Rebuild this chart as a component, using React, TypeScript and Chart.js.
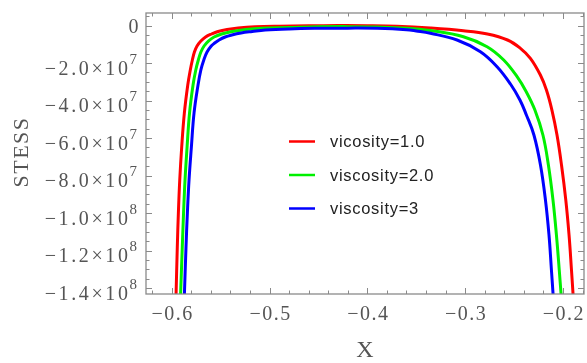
import { useEffect, useRef } from "react";
import { Chart, registerables } from "chart.js";

Chart.register(...registerables);

// Stress profiles across the channel for three viscosities
const redX = [-0.5956, -0.5943, -0.5932, -0.5918, -0.5898, -0.5871, -0.5836, -0.581, -0.5789, -0.5768, -0.5741, -0.5702, -0.5654, -0.5593, -0.5526, -0.5434, -0.5321, -0.5147, -0.49, -0.46, -0.43, -0.4, -0.37, -0.3356, -0.3018, -0.2772, -0.2567, -0.2435, -0.2333, -0.2231, -0.2169, -0.2113, -0.2061, -0.2015, -0.1971, -0.1938, -0.1913, -0.1893];
const redY = [-1.443e8, -1.181e8, -1.0e8, -8.24e7, -6.48e7, -4.67e7, -3.17e7, -2.37e7, -1.84e7, -1.413e7, -1.093e7, -8.27e6, -6.13e6, -4.53e6, -3.2e6, -2.13e6, -1.33e6, -6.9e5, -3.5e5, -1.5e5, -5e4, -1e5, -4e5, -1.33e6, -2.77e6, -4.53e6, -7.73e6, -1.216e7, -1.749e7, -2.64e7, -3.44e7, -4.51e7, -5.84e7, -7.44e7, -9.31e7, -1.117e8, -1.304e8, -1.464e8];

const greenX = [-0.591, -0.5892, -0.5879, -0.5864, -0.5843, -0.5818, -0.5782, -0.5754, -0.5728, -0.5702, -0.5669, -0.5625, -0.5567, -0.549, -0.5383, -0.524, -0.5079, -0.48, -0.45, -0.42, -0.39, -0.36, -0.3356, -0.3018, -0.2776, -0.2606, -0.2469, -0.2374, -0.2287, -0.2205, -0.2149, -0.2102, -0.2067, -0.2038, -0.2015];
const greenY = [-1.443e8, -1.181e8, -1.0e8, -8.24e7, -6.48e7, -4.67e7, -3.17e7, -2.37e7, -1.84e7, -1.413e7, -1.093e7, -8.27e6, -6.13e6, -4.53e6, -3.2e6, -2.13e6, -1.49e6, -1.1e6, -7e5, -6e5, -8e5, -1.4e6, -2.67e6, -5.97e6, -1.131e7, -1.84e7, -2.73e7, -3.55e7, -4.51e7, -5.84e7, -7.44e7, -9.31e7, -1.117e8, -1.304e8, -1.464e8];

const blueX = [-0.5871, -0.5854, -0.584, -0.5823, -0.5799, -0.5772, -0.5731, -0.5702, -0.5672, -0.5639, -0.5596, -0.5564, -0.5516, -0.5454, -0.5386, -0.5291, -0.5178, -0.5045, -0.48, -0.45, -0.42, -0.39, -0.36, -0.35, -0.3356, -0.3083, -0.2844, -0.2674, -0.2537, -0.244, -0.2374, -0.2297, -0.223, -0.2179, -0.2143, -0.2118, -0.2097];
const blueY = [-1.443e8, -1.181e8, -1.0e8, -8.24e7, -6.48e7, -4.67e7, -3.17e7, -2.37e7, -1.84e7, -1.413e7, -1.093e7, -9.49e6, -7.73e6, -6.13e6, -5.07e6, -4.0e6, -3.2e6, -2.4e6, -1.8e6, -1.5e6, -1.4e6, -1.5e6, -2.2e6, -2.9e6, -4.16e6, -7.73e6, -1.397e7, -2.197e7, -3.12e7, -3.97e7, -4.77e7, -5.84e7, -7.44e7, -9.31e7, -1.117e8, -1.304e8, -1.464e8];

const seriesLabels = ["vicosity=1.0", "viscosity=2.0", "viscosity=3"];
const seriesColors = ["#ff0000", "#00f000", "#0000ff"];

const xTickValues = [-0.6, -0.5, -0.4, -0.3, -0.2];
const xTickLabels = ["\u22120.6", "\u22120.5", "\u22120.4", "\u22120.3", "\u22120.2"];
const xMinorStep = 0.02;

const yTickValues = [0, -2e7, -4e7, -6e7, -8e7, -1e8, -1.2e8, -1.4e8];
const yTickMantissas = ["0", "\u22122.0\u00d710", "\u22124.0\u00d710", "\u22126.0\u00d710", "\u22128.0\u00d710", "\u22121.0\u00d710", "\u22121.2\u00d710", "\u22121.4\u00d710"];
const yTickExponents = ["", "7", "7", "7", "7", "8", "8", "8"];
const yMinorStep = 5e6;

const xTitle = "X";
const yTitle = "STESS";

const X_MIN = -0.6263;
const X_MAX = -0.1785;
const Y_MIN = -1.432e8;
const Y_MAX = 6.67e6;

const FRAME = "#8a8a8a";
const LABEL = "#555555";

const toPoints = (xs: number[], ys: number[]) => xs.map((x, i) => ({ x, y: ys[i] }));

const frameTicks = {
  id: "frameTicks",
  afterDatasetsDraw(chart: any) {
    const { ctx, chartArea: a, scales } = chart;
    const xs = scales.x;
    const ys = scales.y;
    ctx.save();
    ctx.strokeStyle = FRAME;
    ctx.lineWidth = 1.3;
    ctx.strokeRect(a.left, a.top, a.right - a.left, a.bottom - a.top);
    ctx.lineWidth = 1;
    const seg = (x1: number, y1: number, x2: number, y2: number) => {
      ctx.beginPath();
      ctx.moveTo(x1, y1);
      ctx.lineTo(x2, y2);
      ctx.stroke();
    };
    const xStart = Math.ceil(X_MIN / xMinorStep);
    const xEnd = Math.floor(X_MAX / xMinorStep);
    for (let i = xStart; i <= xEnd; i++) {
      const v = i * xMinorStep;
      const px = Math.round(xs.getPixelForValue(v)) + 0.5;
      const major = Math.abs(i) % 5 === 0;
      const len = major ? 6 : 3.5;
      seg(px, a.bottom, px, a.bottom - len);
      seg(px, a.top, px, a.top + len);
    }
    const yStart = Math.ceil(Y_MIN / yMinorStep);
    const yEnd = Math.floor(Y_MAX / yMinorStep);
    for (let i = yStart; i <= yEnd; i++) {
      const v = i * yMinorStep;
      const py = Math.round(ys.getPixelForValue(v)) + 0.5;
      const major = Math.abs(i) % 4 === 0;
      const len = major ? 6 : 3.5;
      seg(a.left, py, a.left + len, py);
      seg(a.right, py, a.right - len, py);
    }
    ctx.restore();
  },
  afterDraw(chart: any) {
    const { ctx, scales } = chart;
    const xs = scales.x;
    const ys = scales.y;
    ctx.save();
    ctx.fillStyle = LABEL;

    // bottom tick labels
    (ctx as any).letterSpacing = "1.5px";
    ctx.font = "20px 'Liberation Serif'";
    ctx.textAlign = "center";
    ctx.textBaseline = "alphabetic";
    xTickValues.forEach((v, i) => {
      ctx.fillText(xTickLabels[i], xs.getPixelForValue(v) + 1, 320);
    });

    // left tick labels with powers of ten
    yTickValues.forEach((v, i) => {
      const py = ys.getPixelForValue(v);
      ctx.textAlign = "right";
      ctx.font = "20px 'Liberation Serif'";
      if (!yTickExponents[i]) {
        (ctx as any).letterSpacing = "0px";
        ctx.fillText(yTickMantissas[i], 138.5, py + 7);
        return;
      }
      (ctx as any).letterSpacing = "2.6px";
      ctx.fillText(yTickMantissas[i], 130.5, py + 11.5);
      (ctx as any).letterSpacing = "0px";
      ctx.textAlign = "left";
      ctx.font = "15px 'Liberation Serif'";
      ctx.fillText(yTickExponents[i], 129.5, py + 0.5);
    });

    // axis titles
    (ctx as any).letterSpacing = "0px";
    ctx.font = "24px 'Liberation Serif'";
    ctx.textAlign = "center";
    ctx.fillText(xTitle, 365, 357);
    ctx.save();
    ctx.translate(28, 152);
    ctx.rotate(-Math.PI / 2);
    (ctx as any).letterSpacing = "1.5px";
    ctx.font = "22px 'Liberation Serif'";
    ctx.fillText(yTitle, 0, 0);
    ctx.restore();

    // legend
    const legendY = [141.5, 175, 208.5];
    (ctx as any).letterSpacing = "0.7px";
    ctx.font = "16.5px 'Liberation Sans'";
    ctx.textAlign = "left";
    seriesLabels.forEach((label, i) => {
      ctx.strokeStyle = seriesColors[i];
      ctx.lineWidth = 2.5;
      ctx.beginPath();
      ctx.moveTo(289, legendY[i]);
      ctx.lineTo(315, legendY[i]);
      ctx.stroke();
      ctx.fillStyle = "#222222";
      ctx.fillText(label, 330, legendY[i] + 5.5);
    });
    ctx.restore();
  },
};

export default function App() {
  const canvasRef = useRef<HTMLCanvasElement | null>(null);

  useEffect(() => {
    if (!canvasRef.current) return;
    const series = [
      toPoints(redX, redY),
      toPoints(greenX, greenY),
      toPoints(blueX, blueY),
    ];
    const chart = new Chart(canvasRef.current, {
      type: "line",
      data: {
        datasets: series.map((data, i) => ({
          label: seriesLabels[i],
          data,
          borderColor: seriesColors[i],
          borderWidth: 3,
          pointRadius: 0,
          fill: false,
          tension: 0.4,
          clip: 0,
          order: 2 - i,
        })),
      },
      options: {
        animation: false,
        responsive: false,
        maintainAspectRatio: false,
        layout: { padding: { top: 13, right: 3, left: 0, bottom: 0 } },
        elements: { line: { capBezierPoints: false } },
        plugins: {
          legend: { display: false },
          tooltip: { enabled: false },
        },
        scales: {
          x: {
            type: "linear",
            min: X_MIN,
            max: X_MAX,
            grid: { display: false },
            border: { display: false },
            ticks: { display: false },
            afterFit: (s: any) => {
              s.height = 69;
            },
          },
          y: {
            type: "linear",
            min: Y_MIN,
            max: Y_MAX,
            grid: { display: false },
            border: { display: false },
            ticks: { display: false },
            afterFit: (s: any) => {
              s.width = 146;
            },
          },
        },
      },
      plugins: [frameTicks],
    });
    return () => chart.destroy();
  }, []);

  return (
    <div style={{ position: "fixed", left: 0, top: 0, width: 587, height: 363, background: "#ffffff" }}>
      <canvas ref={canvasRef} width={587} height={363} style={{ width: 587, height: 363, display: "block" }} />
    </div>
  );
}
